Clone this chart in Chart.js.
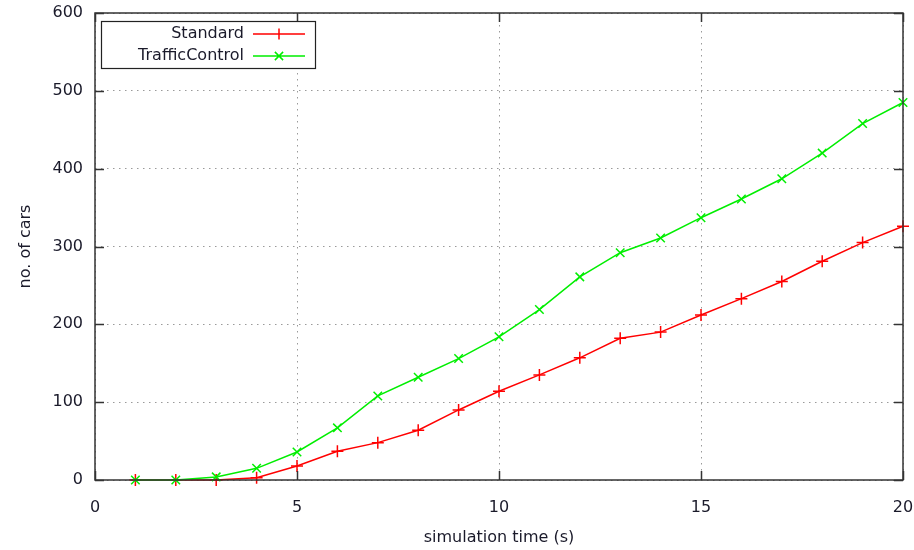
<!DOCTYPE html>
<html>
<head>
<meta charset="utf-8">
<script src="https://cdn.jsdelivr.net/npm/chart.js@4/dist/chart.umd.min.js"></script>
<style>
  html, body { margin: 0; padding: 0; background: #fff; }
  #wrap { width: 914px; height: 550px; }
</style>
</head>
<body>
<div id="wrap"><canvas id="chart" width="914" height="550"></canvas></div>
<script>
/* ── data ───────────────────────────────────────────────── */
const TIMES        = [1, 2, 3, 4, 5, 6, 7, 8, 9, 10, 11, 12, 13, 14, 15, 16, 17, 18, 19, 20];
const STANDARD     = [0, 0, 0, 3, 18, 37, 48, 64, 90, 114, 135, 157, 182, 190, 212, 233, 255, 281, 305, 326];
const TRAFFIC_CTRL = [0, 0, 4, 15, 36, 67, 108, 132, 156, 184, 219, 261, 292, 311, 337, 361, 387, 420, 458, 485];
const X_TICKS      = [0, 5, 10, 15, 20];
const Y_TICKS      = [0, 100, 200, 300, 400, 500, 600];

const FONT   = 'DejaVu Sans';
const FSIZE  = 16;
const RED    = '#ff0000';
const GREEN  = '#00ee00';
const TXT    = '#1a1a2a';

const toPts = ys => TIMES.map((t, i) => ({ x: t, y: ys[i] }));

/* gnuplot-ish frame: border, inward ticks on all four sides, legend box */
const frame = {
  id: 'frame',
  afterDraw(chart) {
    const { ctx, chartArea: a, scales: { x, y } } = chart;
    const T = 9;
    ctx.save();
    ctx.strokeStyle = '#333';
    ctx.lineWidth = 1.5;
    ctx.strokeRect(a.left, a.top, a.right - a.left, a.bottom - a.top);
    ctx.beginPath();
    X_TICKS.forEach(v => {
      const px = Math.round(x.getPixelForValue(v)) + 0.5;
      ctx.moveTo(px, a.bottom); ctx.lineTo(px, a.bottom - T);
      ctx.moveTo(px, a.top);    ctx.lineTo(px, a.top + T);
    });
    Y_TICKS.forEach(v => {
      const py = Math.round(y.getPixelForValue(v)) + 0.5;
      ctx.moveTo(a.left, py);  ctx.lineTo(a.left + T, py);
      ctx.moveTo(a.right, py); ctx.lineTo(a.right - T, py);
    });
    ctx.stroke();

    // legend
    const bx = 101, by = 21, bw = 214, bh = 47;
    ctx.fillStyle = '#fff';
    ctx.fillRect(bx, by, bw, bh);
    ctx.lineWidth = 1.2;
    ctx.strokeStyle = '#222';
    ctx.strokeRect(bx + 0.5, by + 0.5, bw, bh);
    ctx.font = FSIZE + 'px ' + FONT;
    ctx.textAlign = 'right';
    ctx.textBaseline = 'middle';
    chart.data.datasets.forEach((ds, i) => {
      const cy = 34 + i * 22;
      ctx.fillStyle = TXT;
      ctx.fillText(ds.label, 244, cy);
      ctx.strokeStyle = ds.borderColor;
      ctx.lineWidth = 1.5;
      ctx.beginPath();
      ctx.moveTo(253, cy); ctx.lineTo(305, cy);
      const r = 5.5;
      if (ds.pointStyle === 'cross') {
        ctx.moveTo(279 - r, cy); ctx.lineTo(279 + r, cy);
        ctx.moveTo(279, cy - r); ctx.lineTo(279, cy + r);
      } else {
        const d = r * 0.75;
        ctx.moveTo(279 - d, cy - d); ctx.lineTo(279 + d, cy + d);
        ctx.moveTo(279 - d, cy + d); ctx.lineTo(279 + d, cy - d);
      }
      ctx.stroke();
    });
    ctx.restore();
  }
};

new Chart(document.getElementById('chart'), {
  type: 'line',
  data: {
    datasets: [
      {
        label: 'Standard',
        data: toPts(STANDARD),
        borderColor: RED,
        backgroundColor: RED,
        borderWidth: 1.5,
        pointStyle: 'cross',
        pointRadius: 6,
        pointBorderWidth: 1.5,
        order: 1,
      },
      {
        label: 'TrafficControl',
        data: toPts(TRAFFIC_CTRL),
        borderColor: GREEN,
        backgroundColor: GREEN,
        borderWidth: 1.5,
        pointStyle: 'crossRot',
        pointRadius: 6,
        pointBorderWidth: 1.5,
        order: 0,
      },
    ],
  },
  options: {
    responsive: false,
    animation: false,
    clip: false,
    layout: { padding: { top: 13, right: 11, left: 0, bottom: 0 } },
    plugins: { legend: { display: false }, tooltip: { enabled: false } },
    scales: {
      x: {
        type: 'linear',
        min: 0, max: 20,
        afterBuildTicks: s => { s.ticks = X_TICKS.map(v => ({ value: v })); },
        afterFit: s => { s.height = 70; s.paddingLeft = 0; s.paddingRight = 0; },
        border: { display: false, dash: [1.5, 4.5] },
        grid: { color: '#9a9a9a', lineWidth: 1, drawTicks: false },
        ticks: { color: TXT, font: { family: FONT, size: FSIZE }, padding: 18, maxRotation: 0 },
        title: { display: true, text: 'simulation time (s)', color: TXT, font: { family: FONT, size: FSIZE }, padding: { top: 10, bottom: 3 } },
      },
      y: {
        min: 0, max: 600,
        afterBuildTicks: s => { s.ticks = Y_TICKS.map(v => ({ value: v })); },
        afterFit: s => { s.width = 95; s.paddingTop = 0; s.paddingBottom = 0; },
        border: { display: false, dash: [1.5, 4.5] },
        grid: { color: '#9a9a9a', lineWidth: 1, drawTicks: false },
        ticks: { color: TXT, font: { family: FONT, size: FSIZE }, padding: 12 },
        title: { display: true, text: 'no. of cars', color: TXT, font: { family: FONT, size: FSIZE }, padding: { top: 16, bottom: 0 } },
      },
    },
  },
  plugins: [frame],
});
</script>
</body>
</html>
